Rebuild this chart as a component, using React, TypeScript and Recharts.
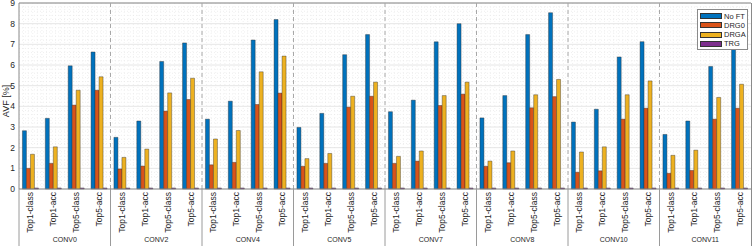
import React from "react"
import {
  Bar,
  BarChart,
  CartesianGrid,
  ReferenceLine,
  XAxis,
  YAxis,
} from "recharts"

const layers = ["CONV0", "CONV2", "CONV4", "CONV5", "CONV7", "CONV8", "CONV10", "CONV11"]
const metrics = ["Top1-class", "Top1-acc", "Top5-class", "Top5-acc"]

// values per layer, in metric order
const noFT = [
  2.82, 3.42, 5.96, 6.63,
  2.5, 3.29, 6.17, 7.07,
  3.38, 4.25, 7.21, 8.2,
  2.98, 3.66, 6.5, 7.47,
  3.74, 4.3, 7.12, 8.0,
  3.44, 4.52, 7.47, 8.53,
  3.24, 3.86, 6.39, 7.13,
  2.64, 3.29, 5.93, 7.1,
]
const drg0 = [
  1.0, 1.24, 4.06, 4.78,
  0.97, 1.11, 3.77, 4.33,
  1.17, 1.29, 4.09, 4.64,
  1.1, 1.24, 3.96, 4.49,
  1.24, 1.35, 4.04, 4.59,
  1.1, 1.27, 3.93, 4.47,
  0.81, 0.88, 3.38, 3.91,
  0.76, 0.9, 3.38, 3.91,
]
const drga = [
  1.68, 2.04, 4.78, 5.43,
  1.53, 1.93, 4.65, 5.36,
  2.42, 2.83, 5.67, 6.43,
  1.47, 1.72, 4.49, 5.17,
  1.58, 1.84, 4.52, 5.17,
  1.35, 1.84, 4.56, 5.3,
  1.79, 2.04, 4.56, 5.23,
  1.63, 1.88, 4.43, 5.07,
]
const trg = [
  0.05, 0.05, 0.05, 0.05,
  0.05, 0.05, 0.05, 0.05,
  0.05, 0.05, 0.05, 0.05,
  0.05, 0.05, 0.05, 0.05,
  0.05, 0.05, 0.05, 0.05,
  0.05, 0.05, 0.05, 0.05,
  0.05, 0.05, 0.05, 0.05,
  0.05, 0.05, 0.05, 0.05,
]
const yTicks = [0, 1, 2, 3, 4, 5, 6, 7, 8, 9]
const minorY = [0.2, 0.4, 0.6, 0.8, 1.2, 1.4, 1.6, 1.8, 2.2, 2.4, 2.6, 2.8, 3.2, 3.4, 3.6, 3.8,
  4.2, 4.4, 4.6, 4.8, 5.2, 5.4, 5.6, 5.8, 6.2, 6.4, 6.6, 6.8, 7.2, 7.4, 7.6, 7.8, 8.2, 8.4, 8.6, 8.8]

const series = [
  { key: "noFT", name: "No FT", color: "#0072BD" },
  { key: "drg0", name: "DRG0", color: "#D95319" },
  { key: "drga", name: "DRGA", color: "#EDB120" },
  { key: "trg", name: "TRG", color: "#7E2F8E" },
]

const rows = layers.flatMap((layer, g) =>
  metrics.map((m, j) => {
    const i = g * 4 + j
    return { key: layer + "|" + m, noFT: noFT[i], drg0: drg0[i], drga: drga[i], trg: trg[i] }
  })
)

const W = 753
const H = 246
const FONT = "'Liberation Sans', Arial, sans-serif"

function CatTick(props: any) {
  const { x, y, payload } = props
  const [layer, metric] = String(payload.value).split("|")
  const idx = rows.findIndex((r) => r.key === payload.value)
  const half = payload.offset || 11.4
  return (
    <g>
      <text
        x={x + 3}
        y={y}
        transform={`rotate(-90 ${x + 3} ${y})`}
        textAnchor="end"
        fontSize={8.5}
        fontFamily={FONT}
        fill="#262626"
      >
        {metric}
      </text>
      {idx % 4 === 0 && (
        <line x1={x - half} x2={x - half} y1={y - 3} y2={H} stroke="#9a9a9a" strokeWidth={1} />
      )}
      {idx % 4 === 1 && (
        <text x={x + half} y={y + 50} textAnchor="middle" fontSize={7} fontFamily={FONT} fill="#262626">
          {layer}
        </text>
      )}
    </g>
  )
}

function YLabel(props: any) {
  const vb = props.viewBox || { y: 3, height: 186 }
  const cx = 8.5
  const cy = vb.y + vb.height / 2 + 5
  return (
    <text
      x={cx}
      y={cy}
      transform={`rotate(-90 ${cx} ${cy})`}
      textAnchor="middle"
      fontSize={9}
      fontFamily={FONT}
      fill="#262626"
    >
      AVF [%]
    </text>
  )
}

function LegendBox() {
  return (
    <div
      style={{
        position: "absolute",
        left: 697,
        top: 9,
        width: 51,
        height: 41,
        boxSizing: "border-box",
        border: "1px solid #8a8a8a",
        background: "#fff",
        fontFamily: FONT,
        fontSize: 7.5,
        color: "#262626",
      }}
    >
      {series.map((s, i) => (
        <div
          key={s.key}
          style={{
            position: "absolute",
            left: 2,
            top: 1.5 + i * 9.3,
            height: 9,
            display: "flex",
            alignItems: "center",
            whiteSpace: "nowrap",
          }}
        >
          <div style={{ width: 22, height: 6, background: s.color, border: "0.5px solid #333", boxSizing: "border-box", flex: "none" }} />
          <span style={{ marginLeft: 2, lineHeight: "9px" }}>{s.name}</span>
        </div>
      ))}
    </div>
  )
}

export default function App() {
  return (
    <div style={{ position: "absolute", left: 0, top: 0, width: W, height: H, background: "#fff" }}>
      <BarChart
        width={W}
        height={H}
        data={rows}
        margin={{ top: 3, right: 2, left: 0, bottom: 0 }}
        barCategoryGap="15%"
        barGap={0}
      >
        <CartesianGrid
          horizontalValues={minorY}
          vertical={false}
          stroke="#e2e2e2"
          strokeDasharray="1 2"
          strokeWidth={0.6}
        />
        <CartesianGrid
          horizontal={false}
          verticalCoordinatesGenerator={({ offset }: any) => {
            const out: number[] = []
            const step = offset.width / rows.length / 5
            for (let k = 1; k < rows.length * 5; k++) out.push(offset.left + k * step)
            return out
          }}
          stroke="#e6e6e6"
          strokeDasharray="1 2"
          strokeWidth={0.6}
        />
        <CartesianGrid vertical={false} stroke="#e0e0e0" strokeWidth={0.8} />
        <XAxis
          dataKey="key"
          interval={0}
          height={57}
          tickLine={false}
          tickSize={0}
          tickMargin={3}
          stroke="#8a8a8a"
          tick={<CatTick />}
        />
        <YAxis
          width={19}
          domain={[0, 9]}
          ticks={yTicks}
          interval={0}
          tickLine={false}
          tickSize={0}
          tickMargin={4}
          stroke="#8a8a8a"
          tick={{ fontSize: 8.5, fontFamily: FONT, fill: "#262626" }}
          label={<YLabel />}
        />
        <ReferenceLine y={9} stroke="#8a8a8a" />
        {layers.slice(1).map((l) => (
          <ReferenceLine key={l} x={l + "|" + metrics[0]} position="start" stroke="#a8a8a8" strokeDasharray="4 3" />
        ))}
        {series.map((s) => (
          <Bar key={s.key} dataKey={s.key} name={s.name} fill={s.color} stroke="#2a2a2a" strokeWidth={0.4} isAnimationActive={false} />
        ))}
      </BarChart>
      <div style={{ position: "absolute", left: W - 2, top: 3, width: 1, height: H - 3, background: "#8a8a8a" }} />
      <LegendBox />
    </div>
  )
}
